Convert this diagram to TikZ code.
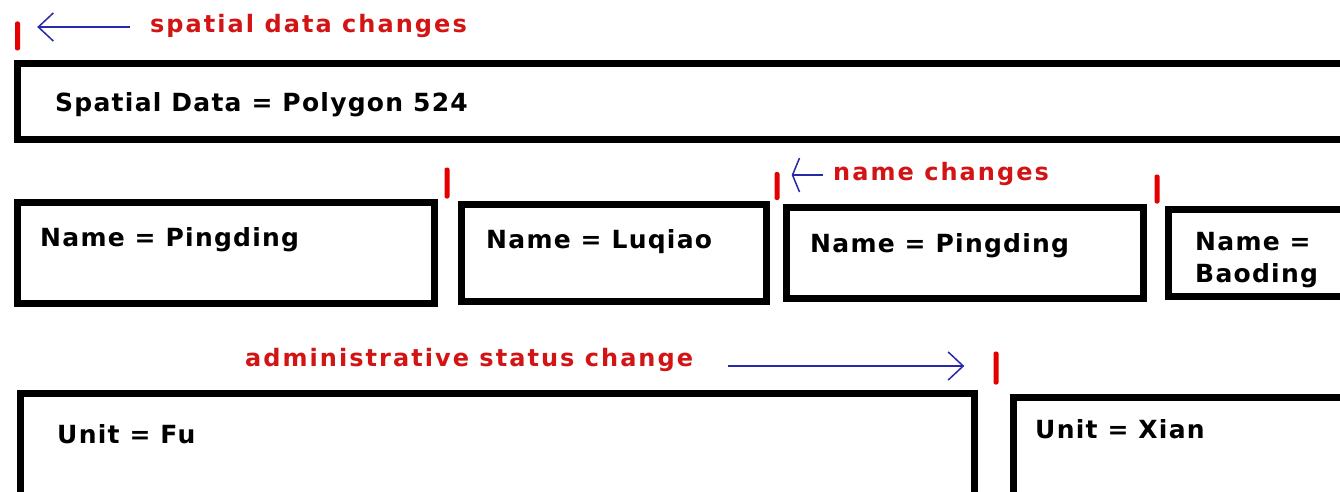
\documentclass[tikz,border=0pt]{standalone}
\usepackage{fontspec}
\setmainfont{DejaVu Sans}
\newfontfamily\lblfont[LetterSpace=5]{DejaVu Sans Bold}
\newfontfamily\redfont[LetterSpace=8.5]{DejaVu Sans Bold}
\usetikzlibrary{arrows.meta}
\definecolor{tickred}{RGB}{228,0,0}
\definecolor{labred}{RGB}{210,20,20}
\definecolor{arrblue}{RGB}{40,40,170}
\tikzset{
  box/.style={draw=black, line width=7.5pt, rectangle, inner sep=0pt, outer sep=0pt, anchor=north west},
  tickmark/.style={fill=tickred, rectangle, rounded corners=2pt, minimum width=5pt, inner sep=0pt},
  lbl/.style={font=\lblfont\fontsize{25}{32}\selectfont, anchor=base west, inner sep=0pt, text=black},
  redlbl/.style={font=\redfont\fontsize{24}{28}\selectfont, anchor=base west, inner sep=0pt, text=labred},
  arr/.style={draw=arrblue, line width=1.5pt, -{Straight Barb[length=15pt,width=28pt]}},
}
\begin{document}
\begin{tikzpicture}[x=1pt,y=-1pt]
\useasboundingbox (0,0) rectangle (1340,492);
\clip (0,0) rectangle (1340,492);
\fill[white] (0,0) rectangle (1340,492);
% row 1
\node[tickmark, minimum height=29pt] (t1) at (17.5,36) {};
\coordinate (a1s) at (130,27);
\draw[arr, shorten >=17pt] (a1s) -- (a1s -| t1.east);
\node[redlbl] (l1) at (150,33) {spatial data changes};
\node[box, minimum width=1360pt, minimum height=76pt] (b1) at (17.5,63.5) {};
\node[lbl] (s1) at (55,111) {Spatial Data = Polygon 524};
% row 2
\node[box, minimum width=417pt, minimum height=101pt] (bA) at (17.5,202.5) {};
\node[lbl] (sA) at (40,246) {Name = Pingding};
\node[tickmark, minimum height=31pt] (t2) at (447,183) {};
\node[box, minimum width=305pt, minimum height=97pt] (bB) at (461.5,204.5) {};
\node[lbl] (sB) at (486,248) {Name = Luqiao};
\node[tickmark, minimum height=28pt] (t3) at (777,186) {};
\coordinate (a2s) at (823,175);
\draw[arrblue, line width=1.5pt, -{Straight Barb[length=7pt,width=34pt]}, shorten >=12pt] (a2s) -- (a2s -| t3.east);
\node[redlbl] (l2) at (833,180) {name changes};
\node[box, minimum width=357pt, minimum height=91pt] (bC) at (786.5,207.5) {};
\node[lbl] (sC) at (810,252) {Name = Pingding};
\node[tickmark, minimum height=29pt] (t4) at (1157,189) {};
\node[box, minimum width=300pt, minimum height=87pt] (bD) at (1168.5,209.5) {};
\node[lbl] (sD1) at (1195,250) {Name =};
\node[lbl] (sD2) at (1195,282) {Baoding};
% row 3
\node[redlbl] (l3) at (245,366) {administrative status change};
\node[tickmark, minimum height=33pt] (t5) at (996,368) {};
\coordinate (a3s) at (728,366);
\draw[arr, shorten >=29pt] (a3s) -- (a3s -| t5.west);
\node[box, minimum width=954pt, minimum height=130pt] (bE) at (20.5,393.5) {};
\node[lbl] (sE) at (57,443) {Unit = Fu};
\node[box, minimum width=400pt, minimum height=130pt] (bF) at (1013.5,397.5) {};
\node[lbl] (sF) at (1035,438) {Unit = Xian};
\end{tikzpicture}
\end{document}
